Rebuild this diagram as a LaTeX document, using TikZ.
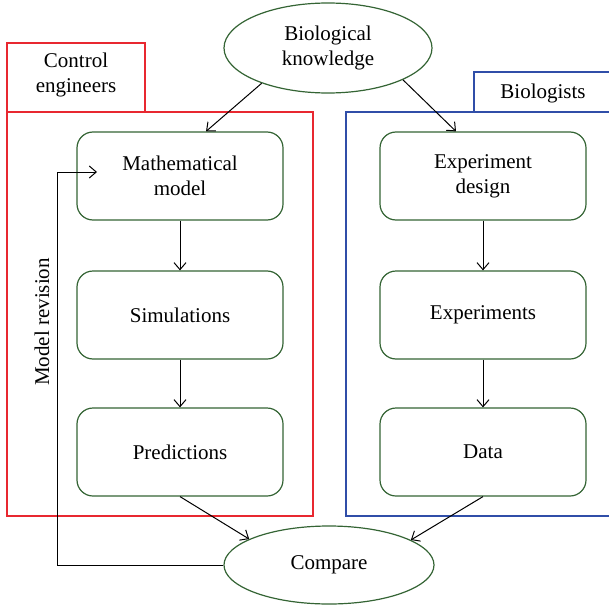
\documentclass[tikz,border=0pt]{standalone}
\usepackage{fontspec}
\setmainfont{Liberation Serif}
\usepackage{tikz}
\usetikzlibrary{shapes.geometric, arrows.meta, positioning, calc}
\definecolor{boxgreen}{RGB}{52,100,52}
\definecolor{engred}{RGB}{232,40,48}
\definecolor{bioblue}{RGB}{48,78,168}
\tikzset{
  stepbox/.style={rectangle, draw=boxgreen, rounded corners=16pt,
    minimum width=206pt, minimum height=88pt, align=center,
    line width=1.2pt, font=\fontsize{21}{25}\selectfont},
  oval/.style={ellipse, draw=boxgreen, inner sep=0pt, align=center,
    line width=1.2pt, font=\fontsize{21}{25}\selectfont},
  grplabel/.style={align=center, font=\fontsize{21}{25}\selectfont},
  arr/.style={-{Straight Barb[length=7pt, width=12pt]}, line width=1pt, color=black}
}
\begin{document}
\begin{tikzpicture}[x=1pt, y=-1pt]
  \useasboundingbox (0,0) rectangle (609,604);

  % Group frames
  \draw[engred, line width=1.2pt] (7,43) rectangle (145,112);
  \draw[engred, line width=1.2pt] (7,112) rectangle (313,516);
  \draw[bioblue, line width=1.2pt] (474,72) rectangle (614,112);
  \draw[bioblue, line width=1.2pt] (346,112) rectangle (614,516);
  \node[grplabel] (ctrllabel) at (76,75) {Control\\engineers};
  \node[grplabel] (biolabel) at (543,93) {Biologists};

  % Knowledge and comparison
  \node[oval, minimum width=208pt, minimum height=90pt] (bio) at (328,48) {Biological\\knowledge};
  \node[oval, minimum width=210pt, minimum height=78pt] (cmp) at (329,565) {Compare};

  % Modelling side
  \node[stepbox] (math) at (180,176) {Mathematical\\model};
  \node[stepbox] (sim) at (180,315) {Simulations};
  \node[stepbox] (pred) at (180,452) {Predictions};

  % Experimental side
  \node[stepbox] (expd) at (483,176) {Experiment\\design};
  \node[stepbox] (expt) at (483,315) {Experiments};
  \node[stepbox] (data) at (483,452) {Data};

  % Flow
  \draw[arr] (bio.208) -- ([xshift=26pt]math.north);
  \draw[arr] (bio.-23) -- ([xshift=-27pt]expd.north);
  \draw[arr] (math) -- (sim);
  \draw[arr] (sim) -- (pred);
  \draw[arr] (expd) -- (expt);
  \draw[arr] (expt) -- (data);
  \draw[arr] (pred.south) -- (cmp.162);
  \draw[arr] (data.south) -- (cmp.17);

  % Revision loop
  \coordinate (revtip) at (97,172);
  \draw[arr] (cmp.west) -| (57,172) -- (revtip);
  \node[grplabel, rotate=90] (revlabel) at (42,322) {Model revision};
\end{tikzpicture}
\end{document}
